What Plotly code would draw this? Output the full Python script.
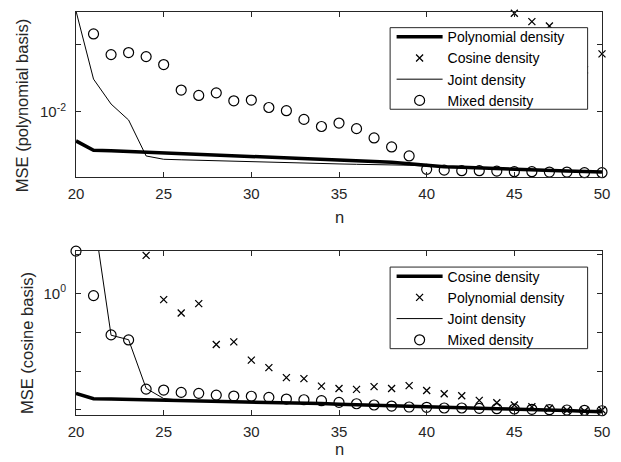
import plotly.graph_objects as go

# ---------------- data ----------------
n = list(range(20, 51))

# Top panel: MSE (polynomial basis)
top_polynomial = [0.00780, 0.00720, 0.00717, 0.00713, 0.00709, 0.00704, 0.00700, 0.00696,
                  0.00692, 0.00688, 0.00684, 0.00680, 0.00677, 0.00672, 0.00668, 0.00663,
                  0.00659, 0.00655, 0.00650, 0.00641, 0.00631, 0.00626, 0.00623, 0.00619,
                  0.00616, 0.00613, 0.00610, 0.00607, 0.00603, 0.00601, 0.00598]
top_cosine = [None] * 25 + [0.02314, 0.02156, 0.02078, 0.01752, 0.01429, 0.01638]
top_joint = [0.0236, 0.01321, 0.01068, 0.00932, 0.00686, 0.00667, 0.00664, 0.00661,
             0.00658, 0.00655, 0.00652, 0.00650, 0.00648, 0.00645, 0.00643, 0.00641,
             0.00639, 0.00638, 0.00636, 0.00634, 0.00629, 0.00625, 0.00622, 0.00618,
             0.00615, 0.00612, 0.00609, 0.00606, 0.00603, 0.00600, 0.00597]
top_mixed = [None, 0.01941, 0.01628, 0.01656, 0.01600, 0.01495, 0.01203, 0.01149,
             0.01175, 0.01098, 0.01105, 0.01037, 0.01009, 0.00937, 0.00882, 0.00908,
             0.00866, 0.00800, 0.00741, 0.00686, 0.00612, 0.00608, 0.00605, 0.00605,
             0.00603, 0.00600, 0.00600, 0.00598, 0.00598, 0.00595, 0.00595]

# Bottom panel: MSE (cosine basis)
bot_cosine = [0.5529, 0.5356, 0.5346, 0.5336, 0.5324, 0.5308, 0.5299, 0.5289, 0.5277,
              0.5264, 0.5252, 0.5240, 0.5227, 0.5215, 0.5203, 0.5181, 0.5163, 0.5145,
              0.5127, 0.5109, 0.5090, 0.5078, 0.5069, 0.5060, 0.5048, 0.5039, 0.5024,
              0.5009, 0.4994, 0.4976, 0.4958]
bot_polynomial = [None, None, None, None, 1.254, 0.9645, 0.8911, 0.9419, 0.7391, 0.7506,
                  0.6736, 0.6442, 0.6070, 0.6034, 0.5771, 0.5689, 0.5662, 0.5755, 0.5689,
                  0.5789, 0.5622, 0.5516, 0.5451, 0.5305, 0.5230, 0.5160, 0.5108, 0.5060,
                  0.5000, 0.4979, 0.5009]
bot_joint = [2.2, 1.593, 0.7808, 0.7603, 0.5695, 0.5362, 0.5305, 0.5295, 0.5283,
             0.5270, 0.5258, 0.5246, 0.5233, 0.5221, 0.5209, 0.5187, 0.5169, 0.5151,
             0.5133, 0.5115, 0.5096, 0.5084, 0.5075, 0.5066, 0.5054, 0.5045, 0.5030,
             0.5015, 0.5000, 0.4982, 0.4964]
bot_mixed = [1.286, 0.9876, 0.7822, 0.7592, 0.5671, 0.5638, 0.5561, 0.5529, 0.5473,
             0.5441, 0.5435, 0.5400, 0.5346, 0.5324, 0.5293, 0.5242, 0.5199, 0.5160,
             0.5129, 0.5099, 0.5090, 0.5069, 0.5069, 0.5060, 0.5048, 0.5039, 0.5030,
             0.5018, 0.5009, 0.5000, 0.4988]

x_ticks = [20, 25, 30, 35, 40, 45, 50]
top_yticks = [0.01]
top_yticklabels = ["10<sup>-2</sup>"]
top_yminor = [10 ** -1.75]
bot_yticks = [1.0]
bot_yticklabels = ["10<sup>0</sup>"]
bot_yminor = [10 ** 0.1, 10 ** -0.1, 10 ** -0.2, 10 ** -0.3]

# ---------------- figure ----------------
FONT = "Liberation Sans, Arial, Helvetica, sans-serif"
AX = "#262626"
W, H = 621, 462
ML, MR, MT, MB = 76, 15, 11, 47
PH = H - MT - MB
PW = W - ML - MR


def py(ypix):
    return (H - MB - ypix) / PH


def px(xpix):
    return (xpix - ML) / PW


fig = go.Figure()


def thick(x, y, name, xa, ya, lg):
    return go.Scatter(x=x, y=y, name=name, mode="lines", xaxis=xa, yaxis=ya, legend=lg,
                      line=dict(color="black", width=3.5))


def thin(x, y, name, xa, ya, lg):
    return go.Scatter(x=x, y=y, name=name, mode="lines", xaxis=xa, yaxis=ya, legend=lg,
                      line=dict(color="black", width=1))


def crosses(x, y, name, xa, ya, lg):
    return go.Scatter(x=x, y=y, name=name, mode="markers", xaxis=xa, yaxis=ya, legend=lg,
                      cliponaxis=False,
                      marker=dict(symbol="x-thin", size=7, color="black",
                                  line=dict(color="black", width=1.3)))


def circles(x, y, name, xa, ya, lg):
    return go.Scatter(x=x, y=y, name=name, mode="markers", xaxis=xa, yaxis=ya, legend=lg,
                      cliponaxis=False,
                      marker=dict(symbol="circle-open", size=10, color="black",
                                  line=dict(color="black", width=1.2)))


fig.add_trace(thick(n, top_polynomial, "Polynomial density", "x", "y", "legend"))
fig.add_trace(crosses(n, top_cosine, "Cosine density", "x", "y", "legend"))
fig.add_trace(thin(n, top_joint, "Joint density", "x", "y", "legend"))
fig.add_trace(circles(n, top_mixed, "Mixed density", "x", "y", "legend"))

fig.add_trace(thick(n, bot_cosine, "Cosine density", "x2", "y2", "legend2"))
fig.add_trace(crosses(n, bot_polynomial, "Polynomial density", "x2", "y2", "legend2"))
fig.add_trace(thin(n, bot_joint, "Joint density", "x2", "y2", "legend2"))
fig.add_trace(circles(n, bot_mixed, "Mixed density", "x2", "y2", "legend2"))

axis_common = dict(showline=True, linecolor=AX, linewidth=1, mirror="ticks",
                   ticks="inside", ticklen=5, tickcolor=AX, tickwidth=1,
                   showgrid=False, zeroline=False,
                   tickfont=dict(family=FONT, size=15, color=AX))

xcommon = dict(axis_common, range=[20, 50], tickvals=x_ticks, domain=[0, 1],
               ticklabelstandoff=3)


def minor_ticks(vals):
    return dict(tickvals=vals, ticks="inside", ticklen=5, tickcolor=AX, tickwidth=1,
                showgrid=False)


legend_common = dict(xanchor="left", yanchor="top", bgcolor="rgba(0,0,0,0)",
                     borderwidth=0, itemwidth=46, tracegroupgap=0,
                     font=dict(family=FONT, size=14, color="black"))

fig.update_layout(
    width=W, height=H,
    margin=dict(l=ML, r=MR, t=MT, b=MB),
    paper_bgcolor="white", plot_bgcolor="white",
    font=dict(family=FONT, color=AX),
    showlegend=True,
    xaxis=dict(xcommon, anchor="y"),
    xaxis2=dict(xcommon, anchor="y2"),
    yaxis=dict(axis_common, type="log", range=[-2.2400, -1.6307],
               tickvals=top_yticks, ticktext=top_yticklabels,
               minor=minor_ticks(top_yminor),
               domain=[py(176), 1], anchor="x", ticklabelstandoff=6),
    yaxis2=dict(axis_common, type="log", range=[-0.3131, 0.1093],
                tickvals=bot_yticks, ticktext=bot_yticklabels,
                minor=minor_ticks(bot_yminor),
                domain=[0, py(250.7)], anchor="x2", ticklabelstandoff=6),
    legend=dict(legend_common, x=px(394), y=py(20.2)),
    legend2=dict(legend_common, x=px(394), y=py(260.2)),
)

# legend boxes (white background with border, drawn above the data, below the legend text)
for top_px, bot_px in [(26.7, 108.5), (266.7, 348.5)]:
    fig.add_shape(type="rect", xref="paper", yref="paper", layer="above",
                  x0=px(392.5), x1=px(591.5), y0=py(bot_px), y1=py(top_px),
                  fillcolor="white", line=dict(color=AX, width=1))

lab_font = dict(family=FONT, size=16.5, color=AX)
fig.add_annotation(text="MSE (polynomial basis)", xref="paper", yref="paper",
                   x=px(21), y=py(105), textangle=-90, showarrow=False,
                   xanchor="center", yanchor="middle", font=lab_font)
fig.add_annotation(text="MSE (cosine basis)", xref="paper", yref="paper",
                   x=px(26), y=py(342.5), textangle=-90, showarrow=False,
                   xanchor="center", yanchor="middle", font=lab_font)
fig.add_annotation(text="n", xref="paper", yref="paper",
                   x=px(341), y=py(216.5), showarrow=False,
                   xanchor="center", yanchor="middle", font=lab_font)
fig.add_annotation(text="n", xref="paper", yref="paper",
                   x=px(341), y=py(449.5), showarrow=False,
                   xanchor="center", yanchor="middle", font=lab_font)

fig.write_html("out.html",
               config={"displayModeBar": False},
               post_script="document.body.style.margin='0';document.body.style.padding='0';")
